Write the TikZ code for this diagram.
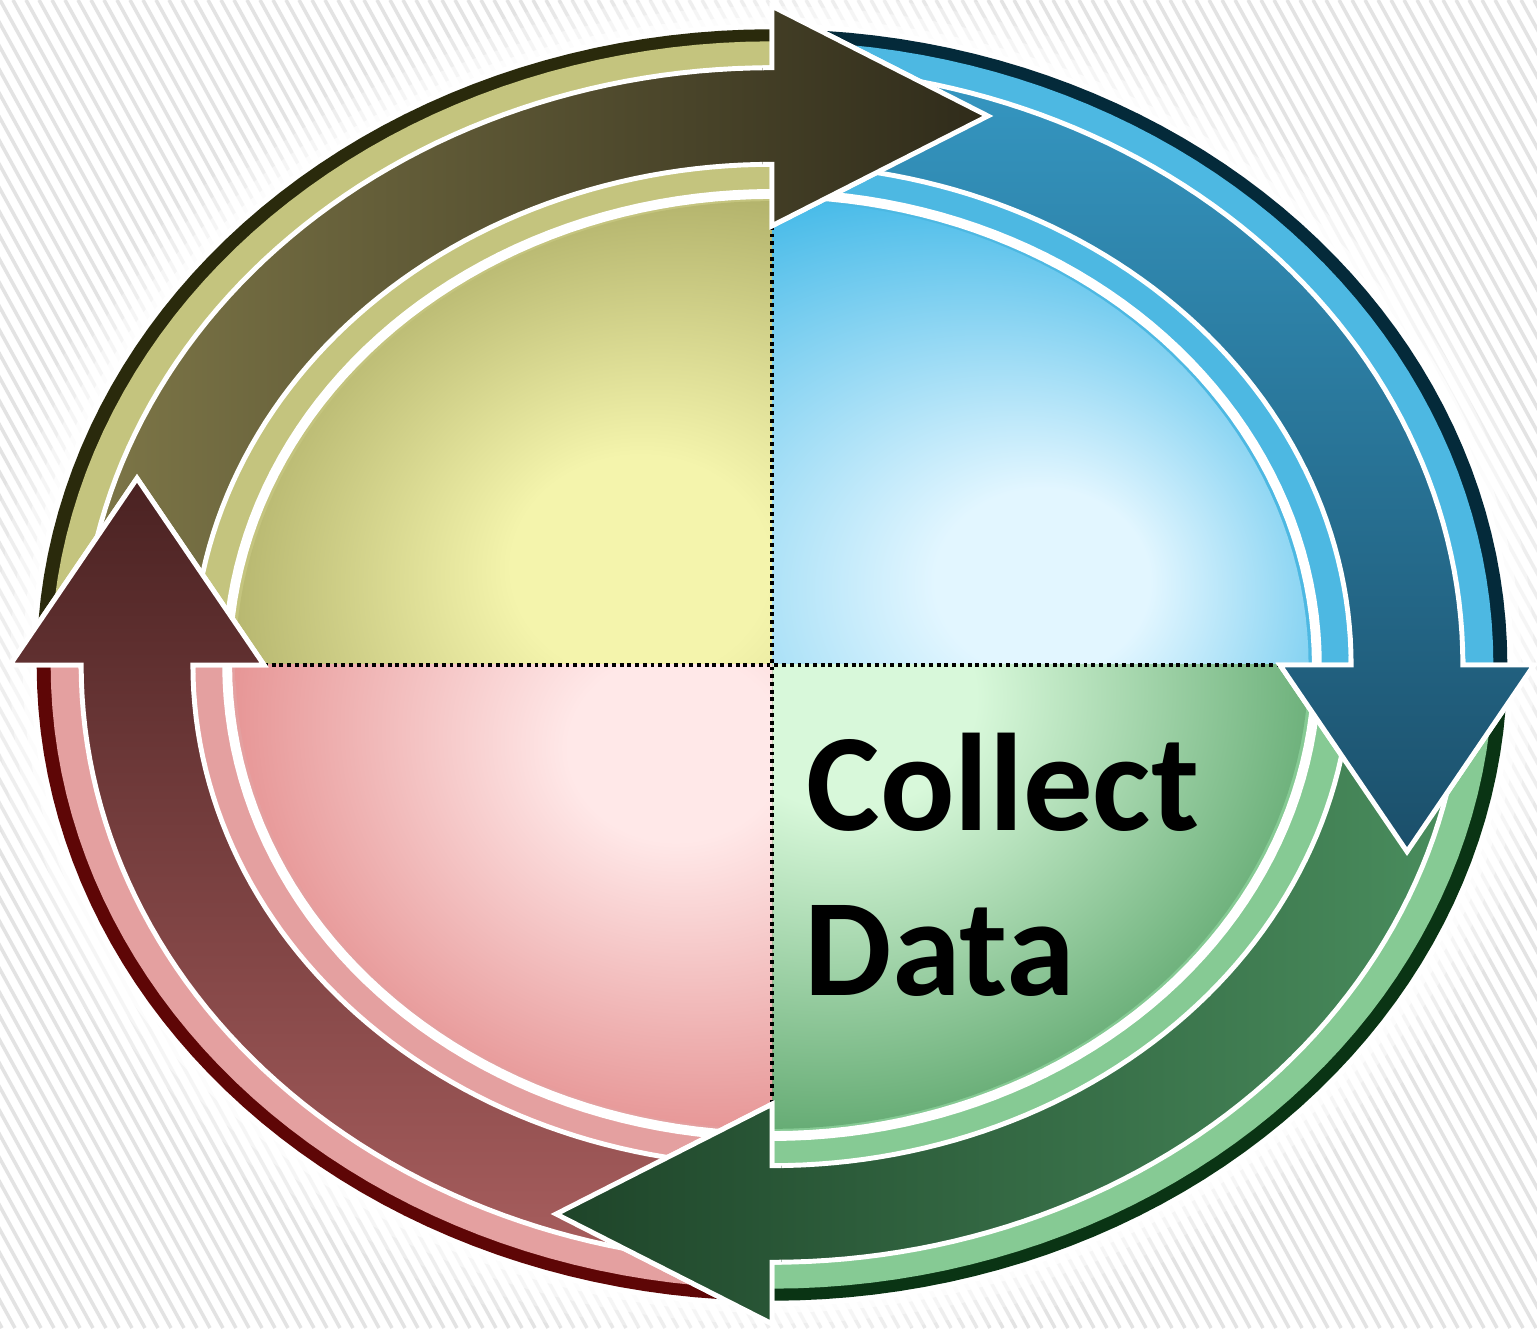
\documentclass[tikz,border=0pt]{standalone}
\usepackage{fontspec}
\newfontfamily\carlito{Carlito}
\usetikzlibrary{calc}

\definecolor{olRim}{HTML}{2A2A0C}
\definecolor{olBand}{HTML}{C4C47E}
\definecolor{olDiscL}{HTML}{F4F4AC}
\definecolor{olDiscD}{HTML}{A3A35C}
\definecolor{olArrL}{HTML}{7E7748}
\definecolor{olArrD}{HTML}{2F2B1A}

\definecolor{blRim}{HTML}{042A3A}
\definecolor{blBand}{HTML}{4DB8E2}
\definecolor{blDiscL}{HTML}{E2F6FF}
\definecolor{blDiscD}{HTML}{36B4E6}
\definecolor{blArrL}{HTML}{3597C2}
\definecolor{blArrD}{HTML}{1B4F6A}

\definecolor{grRim}{HTML}{0A3414}
\definecolor{grBand}{HTML}{86CA94}
\definecolor{grDiscL}{HTML}{D8F8DA}
\definecolor{grDiscD}{HTML}{5AA46A}
\definecolor{grArrL}{HTML}{4A8E5E}
\definecolor{grArrD}{HTML}{1E4429}

\definecolor{pkRim}{HTML}{5E0606}
\definecolor{pkBand}{HTML}{E4A0A0}
\definecolor{pkDiscL}{HTML}{FFE8E8}
\definecolor{pkDiscD}{HTML}{E38A8A}
\definecolor{pkArrL}{HTML}{A85E5E}
\definecolor{pkArrD}{HTML}{4A2222}

\pgfdeclareradialshading{discTL}{\pgfpoint{-7bp}{6bp}}{color(0bp)=(olDiscL); color(6bp)=(olDiscL); color(26bp)=(olDiscD); color(50bp)=(olDiscD)}
\pgfdeclareradialshading{discTR}{\pgfpoint{14bp}{5bp}}{color(0bp)=(blDiscL); color(5bp)=(blDiscL); color(25bp)=(blDiscD); color(50bp)=(blDiscD)}
\pgfdeclareradialshading{discBR}{\pgfpoint{4bp}{-2bp}}{color(0bp)=(grDiscL); color(6bp)=(grDiscL); color(26bp)=(grDiscD); color(50bp)=(grDiscD)}
\pgfdeclareradialshading{discBL}{\pgfpoint{-5bp}{-5bp}}{color(0bp)=(pkDiscL); color(5bp)=(pkDiscL); color(25bp)=(pkDiscD); color(50bp)=(pkDiscD)}

\newcommand\ovalpath[1]{plot[domain=0:360,samples=181] ({#1*cos(\x)},{#1*sin(\x)}) -- cycle}
\def\Rout{1.088}
\def\Rin{0.912}

\newcommand\quadrantfill[5]{%
  \begin{scope}
    \clip (0,0) rectangle (#1,#2);
    \fill[#3] \ovalpath{1.158};
    \fill[#4] \ovalpath{1.136};
    \shade[shading=#5] \ovalpath{0.845};
  \end{scope}}

\newcommand\olivearrow{\path[arrowbody,left color=olArrL,right color=olArrD]
  plot[domain=180:90,samples=60] ({\Rout*cos(\x)},{\Rout*sin(\x)}) -- (0,1.2) -- (0.34,1) -- (0,0.8)
  -- plot[domain=90:180,samples=60] ({\Rin*cos(\x)},{\Rin*sin(\x)}) -- cycle;}
\newcommand\bluearrow{\path[arrowbody,top color=blArrL,bottom color=blArrD]
  plot[domain=90:0,samples=60] ({\Rout*cos(\x)},{\Rout*sin(\x)}) -- (1.2,0) -- (1,-0.34) -- (0.8,0)
  -- plot[domain=0:90,samples=60] ({\Rin*cos(\x)},{\Rin*sin(\x)}) -- cycle;}
\newcommand\greenarrow{\path[arrowbody,right color=grArrL,left color=grArrD]
  plot[domain=0:-90,samples=60] ({\Rout*cos(\x)},{\Rout*sin(\x)}) -- (0,-1.2) -- (-0.34,-1) -- (0,-0.8)
  -- plot[domain=-90:0,samples=60] ({\Rin*cos(\x)},{\Rin*sin(\x)}) -- cycle;}
\newcommand\pinkarrow{\path[arrowbody,bottom color=pkArrL,top color=pkArrD]
  plot[domain=-90:-180,samples=60] ({\Rout*cos(\x)},{\Rout*sin(\x)}) -- (-1.2,0) -- (-1,0.34) -- (-0.8,0)
  -- plot[domain=-180:-90,samples=60] ({\Rin*cos(\x)},{\Rin*sin(\x)}) -- cycle;}

\tikzset{
  arrowbody/.style={draw=white, line width=1.4pt, line join=miter},
  stripe/.style={draw=black!11, line width=1pt},
  divider/.style={draw=black, line width=1.1pt, dash pattern=on 1.1pt off 1.1pt},
  labeltext/.style={inner sep=0pt, anchor=base west, font=\carlito\bfseries\fontsize{39.5}{47}\selectfont}
}

\begin{document}
\begin{tikzpicture}
\useasboundingbox (0,0) rectangle (15.37,13.28);
\fill[white] (0,0) rectangle (15.37,13.28);
\begin{scope}
  \clip (0,0) rectangle (15.37,13.28);
  \foreach \a in {-58,...,120} \draw[stripe] ({\a*0.13},13.28) -- ++(7.3,-13.28);
\end{scope}

\begin{scope}[shift={(7.72,6.63)}]
\begin{scope}[x=6.35cm,y=5.49cm]
  % white glow
  \fill[white,opacity=0.2] \ovalpath{1.25};
  \fill[white,opacity=0.3] \ovalpath{1.225};
  \fill[white,opacity=0.45] \ovalpath{1.2};
  \fill[white,opacity=0.7] \ovalpath{1.18};
  \fill[white] \ovalpath{1.168};

  % quadrants
  \quadrantfill{-1.3}{1.3}{olRim}{olBand}{discTL}
  \quadrantfill{1.3}{1.3}{blRim}{blBand}{discTR}
  \quadrantfill{1.3}{-1.3}{grRim}{grBand}{discBR}
  \quadrantfill{-1.3}{-1.3}{pkRim}{pkBand}{discBL}

  % white inner ring
  \draw[white, line width=2.8pt] \ovalpath{0.858};

  % dividers
  \coordinate (top) at (0,0.8);
  \coordinate (bottom) at (0,-0.8);
  \coordinate (left) at (-0.8,0);
  \coordinate (right) at (0.8,0);
  \draw[divider] (top) -- (bottom);
  \draw[divider] (left) -- (right);

  % arrows: bodies
  \olivearrow
  \bluearrow
  \greenarrow
  \pinkarrow
  % arrows: heads on top
  \begin{scope}\clip (-0.015,0.7) rectangle (0.5,1.3); \olivearrow \end{scope}
  \begin{scope}\clip (0.7,-0.5) rectangle (1.3,0.015); \bluearrow \end{scope}
  \begin{scope}\clip (-0.5,-1.3) rectangle (0.015,-0.7); \greenarrow \end{scope}
  \begin{scope}\clip (-1.3,-0.015) rectangle (-0.7,0.5); \pinkarrow \end{scope}
\end{scope}
\end{scope}

% label
\node[labeltext] (collect) at (8.06,4.98) {Collect};
\node[labeltext] (data) at (8.04,3.33) {Data};
\end{tikzpicture}
\end{document}
